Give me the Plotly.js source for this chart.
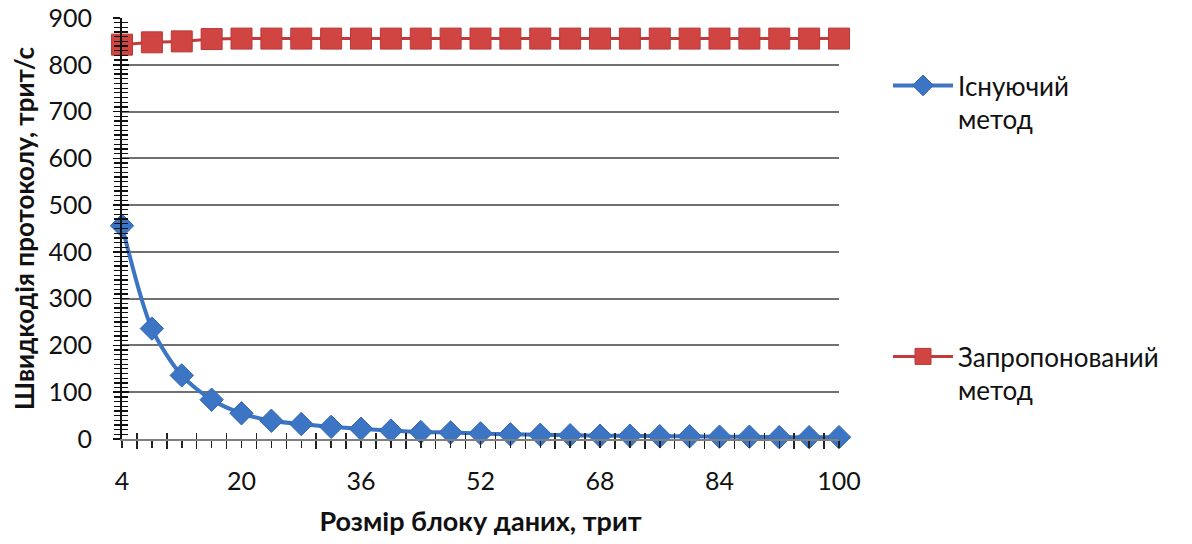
<!DOCTYPE html>
<html>
<head>
<meta charset="utf-8">
<script src="https://cdn.plot.ly/plotly-3.0.1.min.js"></script>
<style>
  html, body { margin: 0; padding: 0; background: #fff; }
  #chart { width: 1192px; height: 544px; }
</style>
</head>
<body>
<div id="chart"></div>
<script>
// Block sizes, trits
const blockSizes = [4, 8, 12, 16, 20, 24, 28, 32, 36, 40, 44, 48, 52,
                    56, 60, 64, 68, 72, 76, 80, 84, 88, 92, 96, 100];
// Protocol speed, trits per second
const existingMethod = [456, 236, 136, 84, 55, 39, 32, 26, 22, 18, 15, 14, 12,
                        10, 9, 8, 7, 7, 6, 6, 5, 5, 4, 4, 4];
const proposedMethod = [843, 848, 850, 855, 856, 856, 856, 856, 856, 856, 856, 856, 856,
                        856, 856, 856, 856, 856, 856, 856, 856, 856, 856, 856, 856];
// Categories that carry a text label on the horizontal axis
const labelledSizes = [4, 20, 36, 52, 68, 84, 100];

const seriesNames = ['Існуючий<br>метод', 'Запропонований<br>метод'];
const xTitle = 'Розмір блоку даних, трит';
const yTitle = 'Швидкодія протоколу, трит/с';

const FONT = 'Lato, "Open Sans", sans-serif';
const TEXT = '#111111';
const BLUE = '#3b75c4';
const RED = '#d04442';

const tickText = blockSizes.map(v => labelledSizes.includes(v) ? String(v) : '');

const traces = [
  {
    x: blockSizes, y: existingMethod, name: seriesNames[0],
    type: 'scatter', mode: 'lines+markers', cliponaxis: false,
    line: { color: BLUE, width: 4, shape: 'spline', smoothing: 0.8 },
    marker: { symbol: 'diamond', size: 18, color: BLUE, line: { color: '#3468b0', width: 1 } },
    legend: 'legend'
  },
  {
    x: blockSizes, y: proposedMethod, name: seriesNames[1],
    type: 'scatter', mode: 'lines+markers', cliponaxis: false,
    line: { color: '#c23b3a', width: 3 },
    marker: { symbol: 'square', size: 21, color: RED, line: { color: '#b83a39', width: 1 } },
    legend: 'legend2'
  },
  // empty trace so the overlay axes (crossing tick marks) get drawn
  { x: [], y: [], xaxis: 'x2', yaxis: 'y2', showlegend: false, hoverinfo: 'skip' }
];

const legendCommon = {
  xref: 'container', yref: 'container', xanchor: 'left', yanchor: 'top',
  font: { family: FONT, size: 26, color: TEXT },
  bgcolor: 'rgba(0,0,0,0)', borderwidth: 0, valign: 'top',
  itemwidth: 60, tracegroupgap: 0
};

const layout = {
  width: 1192, height: 544,
  paper_bgcolor: '#ffffff', plot_bgcolor: '#ffffff',
  margin: { l: 122, r: 353, t: 18, b: 105, pad: 0 },
  font: { family: FONT, size: 25, color: TEXT },
  showlegend: true,
  xaxis: {
    type: 'linear', range: [4, 100], fixedrange: true,
    tickmode: 'array', tickvals: blockSizes, ticktext: tickText,
    ticks: 'outside', ticklen: 7, tickwidth: 1.5, tickcolor: '#222',
    ticklabelstandoff: 12,
    minor: { tick0: 6, dtick: 4, ticks: 'outside', ticklen: 8, tickwidth: 1.5, tickcolor: '#222', showgrid: false },
    showgrid: false, zeroline: false,
    showline: true, linecolor: '#808080', linewidth: 2,
    tickfont: { family: FONT, size: 25, color: TEXT },
    title: { text: '<b>' + xTitle + '</b>', font: { family: FONT, size: 27, color: TEXT }, standoff: 18 },
    automargin: false
  },
  xaxis2: {
    type: 'linear', range: [4, 100], overlaying: 'x', anchor: 'y', side: 'bottom',
    fixedrange: true, showticklabels: false, showgrid: false, zeroline: false, showline: false,
    tickmode: 'linear', tick0: 6, dtick: 4,
    ticks: 'inside', ticklen: 6, tickwidth: 1.5, tickcolor: '#222'
  },
  yaxis: {
    range: [0, 900], fixedrange: true,
    tickmode: 'linear', tick0: 0, dtick: 100,
    ticks: 'outside', ticklen: 7, tickwidth: 1.5, tickcolor: '#111',
    ticklabelstandoff: 16,
    minor: { dtick: 10, ticks: 'outside', ticklen: 6, tickwidth: 1.3, tickcolor: '#111', showgrid: false },
    showgrid: true, gridcolor: '#707070', gridwidth: 2,
    zeroline: false,
    showline: true, linecolor: '#111', linewidth: 2,
    tickfont: { family: FONT, size: 25, color: TEXT },
    title: { text: '<b>' + yTitle + '</b>', font: { family: FONT, size: 26, color: TEXT }, standoff: 6 },
    automargin: false
  },
  yaxis2: {
    range: [0, 900], overlaying: 'y', anchor: 'x', side: 'left',
    fixedrange: true, showticklabels: false, showgrid: false, zeroline: false, showline: false,
    tickmode: 'linear', tick0: 0, dtick: 100,
    ticks: 'inside', ticklen: 7, tickwidth: 1.5, tickcolor: '#111',
    minor: { dtick: 10, ticks: 'inside', ticklen: 6, tickwidth: 1.3, tickcolor: '#111', showgrid: false }
  },
  legend: Object.assign({}, legendCommon, { x: 888 / 1192, y: 1 - 62 / 544 }),
  legend2: Object.assign({}, legendCommon, { x: 888 / 1192, y: 1 - 333 / 544 })
};

Plotly.newPlot('chart', traces, layout, { staticPlot: true, displayModeBar: false });
</script>
</body>
</html>
